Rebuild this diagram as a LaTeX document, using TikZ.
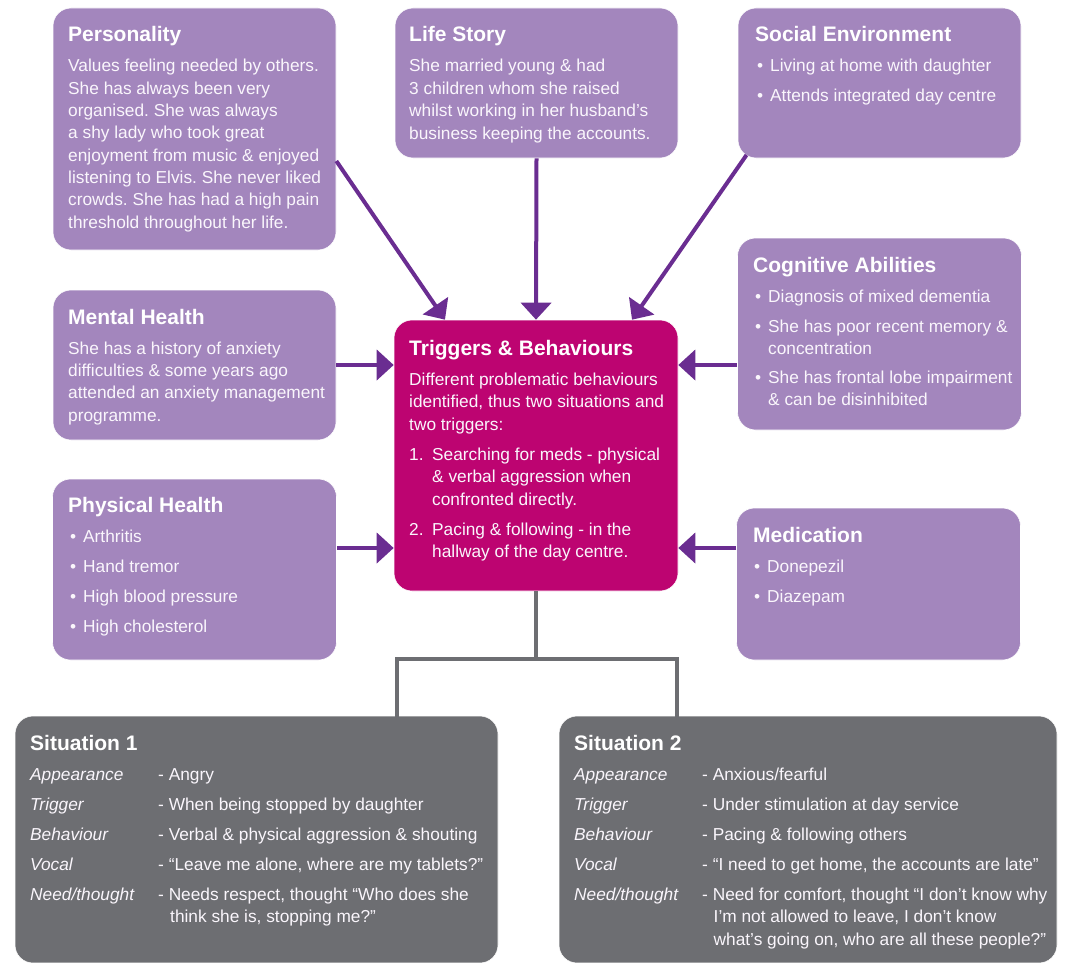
\documentclass[tikz,border=0pt]{standalone}
\usepackage{fontspec}
\setmainfont{Liberation Sans}
\usetikzlibrary{arrows.meta}
\frenchspacing
\definecolor{lav}{RGB}{163,134,189}
\definecolor{mag}{RGB}{189,4,113}
\definecolor{gbox}{RGB}{109,110,114}
\definecolor{arr}{RGB}{106,45,145}
\definecolor{body}{RGB}{250,246,252}
\newcommand{\txtlines}[5]{%
  \foreach \ln [count=\i] in {#5} {\node[txt] (#1-\i) at (#2,{#3+(\i-1)*#4}) {\ln};}}
\newcommand{\bul}{\makebox[13pt][l]{•}}
\begin{document}
\begin{tikzpicture}[x=1pt,y=-1pt,
  boxbase/.style={rounded corners=18pt,inner sep=0pt,draw=white,line width=0.6pt},
  lavbox/.style={boxbase,fill=lav},
  magbox/.style={boxbase,fill=mag},
  graybox/.style={boxbase,fill=gbox},
  ttl/.style={anchor=base west,inner sep=0pt,text=white,font=\bfseries\fontsize{21}{24}\selectfont},
  txt/.style={anchor=base west,inner sep=0pt,text=body,font=\fontsize{17.3}{20}\selectfont},
  lab/.style={txt,font=\itshape\fontsize{17.3}{20}\selectfont},
  arrow/.style={draw=arr,line width=4pt,-{Triangle[length=17pt,width=30pt]},shorten >=0pt},
  conn/.style={draw=gbox,line width=4pt}]
\useasboundingbox (0,0) rectangle (1065,963);
% boxes
\node[lavbox,minimum width=283pt,minimum height=242pt] (pers) at (194.5,129) {};
\node[lavbox,minimum width=283pt,minimum height=150pt] (life) at (536.5,83) {};
\node[lavbox,minimum width=283pt,minimum height=150pt] (soc) at (879.5,83) {};
\node[lavbox,minimum width=283pt,minimum height=150pt] (ment) at (194.5,365) {};
\node[lavbox,minimum width=284pt,minimum height=192pt] (cog) at (879.5,334) {};
\node[magbox,minimum width=284pt,minimum height=271pt] (trig) at (536,455.5) {};
\node[lavbox,minimum width=284pt,minimum height=181pt] (phys) at (194.5,569.5) {};
\node[lavbox,minimum width=284pt,minimum height=152pt] (med) at (878.5,584) {};
\node[graybox,minimum width=483pt,minimum height=247pt] (sit1) at (256.5,839.5) {};
\node[graybox,minimum width=498pt,minimum height=247pt] (sit2) at (808,839.5) {};
% Personality
\node[ttl] (pers-t) at (68,42) {Personality};
\txtlines{pers}{68}{72}{22.33}{{Values feeling needed by others.},{She has always been very},{organised. She was always},{a shy lady who took great},{enjoyment from music \& enjoyed},{listening to Elvis. She never liked},{crowds. She has had a high pain},{threshold throughout her life.}}
% Life Story
\node[ttl] (life-t) at (409,42) {Life Story};
\txtlines{life}{409}{72}{22.4}{{She married young \& had},{3 children whom she raised},{whilst working in her husband’s},{business keeping the accounts.}}
% Social Environment
\node[ttl] (soc-t) at (755,42) {Social Environment};
\txtlines{soc}{757}{72}{30}{{\bul Living at home with daughter},{\bul Attends integrated day centre}}
% Mental Health
\node[ttl] (ment-t) at (68,324) {Mental Health};
\txtlines{ment}{68}{354}{22.4}{{She has a history of anxiety},{difficulties \& some years ago},{attended an anxiety management},{programme.}}
% Cognitive Abilities
\node[ttl] (cog-t) at (753,272) {Cognitive Abilities};
\txtlines{cogA}{755}{302}{30}{{\bul Diagnosis of mixed dementia},{\bul She has poor recent memory \&}}
\node[txt] (cogA-c) at (768,354) {concentration};
\node[txt] (cogB-1) at (755,383) {\bul She has frontal lobe impairment};
\node[txt] (cogB-2) at (768,405.5) {\& can be disinhibited};
% Triggers
\node[ttl] (trig-t) at (409,355) {Triggers \& Behaviours};
\txtlines{trigA}{409}{385}{22.5}{{Different problematic behaviours},{identified, thus two situations and},{two triggers:}}
\node[txt] (trigB-n) at (409,460) {1.};
\txtlines{trigB}{432}{460}{22.5}{{Searching for meds - physical},{\& verbal aggression when},{confronted directly.}}
\node[txt] (trigC-n) at (409,535) {2.};
\txtlines{trigC}{432}{535}{22.5}{{Pacing \& following - in the},{hallway of the day centre.}}
% Physical Health
\node[ttl] (phys-t) at (68,512.5) {Physical Health};
\txtlines{phys}{70}{542.5}{30}{{\bul Arthritis},{\bul Hand tremor},{\bul High blood pressure},{\bul High cholesterol}}
% Medication
\node[ttl] (med-t) at (753,542.5) {Medication};
\txtlines{med}{754}{572.5}{30}{{\bul Donepezil},{\bul Diazepam}}
% Situation 1
\node[ttl] (s1-t) at (30,750) {Situation 1};
\foreach \l [count=\i] in {Appearance,Trigger,Behaviour,Vocal,Need/thought}
  \node[lab] (s1-l\i) at (30,{750+30*\i}) {\l};
\txtlines{s1v}{158}{780}{30}{{- Angry},{- When being stopped by daughter},{- Verbal \& physical aggression \& shouting},{- “Leave me alone, where are my tablets?”},{- Needs respect, thought “Who does she}}
\node[txt] (s1v-c) at (170,922.5) {think she is, stopping me?”};
% Situation 2
\node[ttl] (s2-t) at (574,750) {Situation 2};
\foreach \l [count=\i] in {Appearance,Trigger,Behaviour,Vocal,Need/thought}
  \node[lab] (s2-l\i) at (574,{750+30*\i}) {\l};
\txtlines{s2v}{702}{780}{30}{{- Anxious/fearful},{- Under stimulation at day service},{- Pacing \& following others},{- “I need to get home, the accounts are late”},{- Need for comfort, thought “I don’t know why}}
\txtlines{s2c}{713.5}{922.5}{22.5}{{I’m not allowed to leave, I don’t know},{what’s going on, who are all these people?”}}
% arrows
\coordinate (pa) at (pers.east |- 0,161);
\draw[arrow] (pa) -- (trig.north west -| 445,0);
\draw[arrow] (life.south) -- (trig.north);
\coordinate (sa) at (746.5,155);
\draw[arrow] (sa) -- (trig.north west -| 632,0);
\draw[arrow] (ment.east |- 0,365) -- (trig.west |- 0,365);
\draw[arrow] (phys.east |- 0,548) -- (trig.west |- 0,548);
\draw[arrow] (cog.west |- 0,365) -- (trig.east |- 0,365);
\draw[arrow] (med.west |- 0,548) -- (trig.east |- 0,548);
% connectors
\coordinate (jl) at (397,659);
\coordinate (jr) at (677,659);
\draw[conn] (trig.south) -- (trig.south |- jl);
\draw[conn,line cap=rect] (sit1.north -| jl) -- (jl) -- (jr) -- (sit2.north -| jr);
\end{tikzpicture}
\end{document}
